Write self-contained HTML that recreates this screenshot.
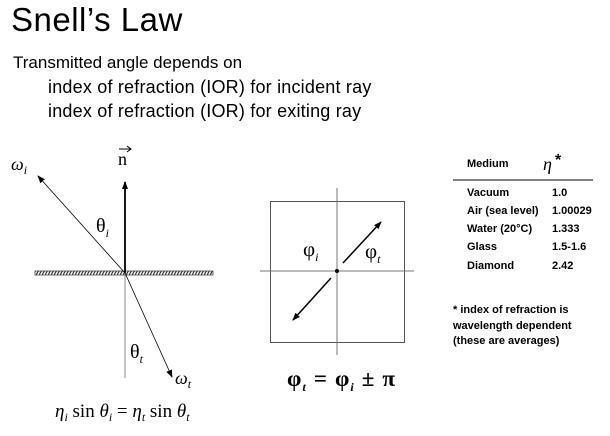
<!DOCTYPE html>
<html><head><meta charset="utf-8"><style>
body{margin:0;width:610px;height:436px;background:#fff;overflow:hidden;position:relative;font-family:"Liberation Sans",sans-serif;color:#000}
.a{position:absolute;white-space:nowrap}
.s{font-family:"Liberation Serif",serif}
.t{font-size:11px;font-weight:bold}
</style></head><body>
<div class="a" style="left:11px;top:1px;font-size:33px;letter-spacing:0.5px">Snell’s Law</div>
<div class="a" style="left:13px;top:53px;font-size:17px">Transmitted angle depends on</div>
<div class="a" style="left:48px;top:77px;font-size:18px;letter-spacing:0.2px">index of refraction (IOR) for incident ray</div>
<div class="a" style="left:48px;top:101px;font-size:18px;letter-spacing:0.2px">index of refraction (IOR) for exiting ray</div>
<svg class="a" style="left:0;top:0" width="610" height="436">
<defs><pattern id="h" width="3" height="5" patternUnits="userSpaceOnUse"><rect width="3" height="5" fill="#fff"/><line x1="0" y1="5" x2="3" y2="0" stroke="#333" stroke-width="1.2"/></pattern>
<marker id="m" markerWidth="8" markerHeight="8" refX="7" refY="4" orient="auto" markerUnits="userSpaceOnUse"><path d="M0,1 L8,4 L0,7z" fill="#000"/></marker></defs>
<rect x="35" y="271" width="178" height="4" fill="url(#h)" stroke="#444" stroke-width="0.8"/>
<line x1="125" y1="273" x2="125" y2="378" stroke="#888" stroke-width="1"/>
<line x1="125" y1="273" x2="125" y2="182" stroke="#000" stroke-width="1.8" marker-end="url(#m)"/>
<line x1="125" y1="273" x2="38" y2="176" stroke="#000" stroke-width="0.8" marker-end="url(#m)"/>
<line x1="125" y1="273" x2="172" y2="377" stroke="#000" stroke-width="0.8" marker-end="url(#m)"/>
<text x="11" y="170" class="s" font-size="18" font-style="italic">ω<tspan font-size="12" dy="4">i</tspan></text>
<text x="118" y="165" class="s" font-size="18">n</text>
<line x1="119" y1="149" x2="130" y2="149" stroke="#000"/><path d="M127,146 L131,149 L127,152" fill="none" stroke="#000"/>
<text x="96" y="232" class="s" font-size="20">θ<tspan font-size="12" font-style="italic" dy="5">i</tspan></text>
<text x="130" y="358" class="s" font-size="20">θ<tspan font-size="12" font-style="italic" dy="5">t</tspan></text>
<text x="175" y="384" class="s" font-size="18" font-style="italic">ω<tspan font-size="12" dy="4">t</tspan></text>
<text x="55" y="417" class="s" font-size="19" font-style="italic">η<tspan font-size="12" dy="4">i</tspan><tspan font-style="normal" dy="-4"> sin </tspan>θ<tspan font-size="12" dy="4">i</tspan><tspan font-style="normal" dy="-4"> = </tspan>η<tspan font-size="12" dy="4">t</tspan><tspan font-style="normal" dy="-4"> sin </tspan>θ<tspan font-size="12" dy="4">t</tspan></text>
<rect x="270.5" y="201.5" width="134" height="141" fill="none" stroke="#555" stroke-width="1"/>
<line x1="337" y1="188" x2="337" y2="355" stroke="#777"/>
<line x1="260" y1="271" x2="414" y2="271" stroke="#777"/>
<circle cx="337" cy="271" r="2" fill="#000"/>
<line x1="343" y1="263" x2="381" y2="222" stroke="#000" stroke-width="1.5" marker-end="url(#m)"/>
<line x1="331" y1="278" x2="293" y2="320" stroke="#000" stroke-width="1.5" marker-end="url(#m)"/>
<text x="303" y="256" class="s" font-size="21">φ<tspan font-size="12" font-style="italic" dy="5">i</tspan></text>
<text x="365" y="258" class="s" font-size="21">φ<tspan font-size="12" font-style="italic" dy="5">t</tspan></text>
<text x="287" y="386" class="s" font-size="23" font-weight="bold" textLength="108">φ<tspan font-size="12" font-style="italic" dy="5">t</tspan><tspan dy="-5"> = φ</tspan><tspan font-size="12" font-style="italic" dy="5">i</tspan><tspan dy="-5"> ± π</tspan></text>
<line x1="453" y1="180" x2="593" y2="180" stroke="#000" stroke-width="1"/>
<text x="543" y="170" class="s" font-size="18" font-style="italic">η</text><text x="555" y="165" font-size="16" font-weight="bold">*</text>
</svg>
<div class="a t" style="left:467px;top:158px">Medium</div>
<div class="a t" style="left:467px;top:187px">Vacuum</div><div class="a t" style="left:552px;top:187px">1.0</div>
<div class="a t" style="left:467px;top:205px">Air (sea level)</div><div class="a t" style="left:552px;top:205px">1.00029</div>
<div class="a t" style="left:467px;top:223px">Water (20°C)</div><div class="a t" style="left:552px;top:223px">1.333</div>
<div class="a t" style="left:467px;top:241px">Glass</div><div class="a t" style="left:552px;top:241px">1.5-1.6</div>
<div class="a t" style="left:467px;top:260px">Diamond</div><div class="a t" style="left:552px;top:260px">2.42</div>
<div class="a t" style="left:453px;top:303px;line-height:15.5px">* index of refraction is<br>wavelength dependent<br>(these are averages)</div>
</body></html>
